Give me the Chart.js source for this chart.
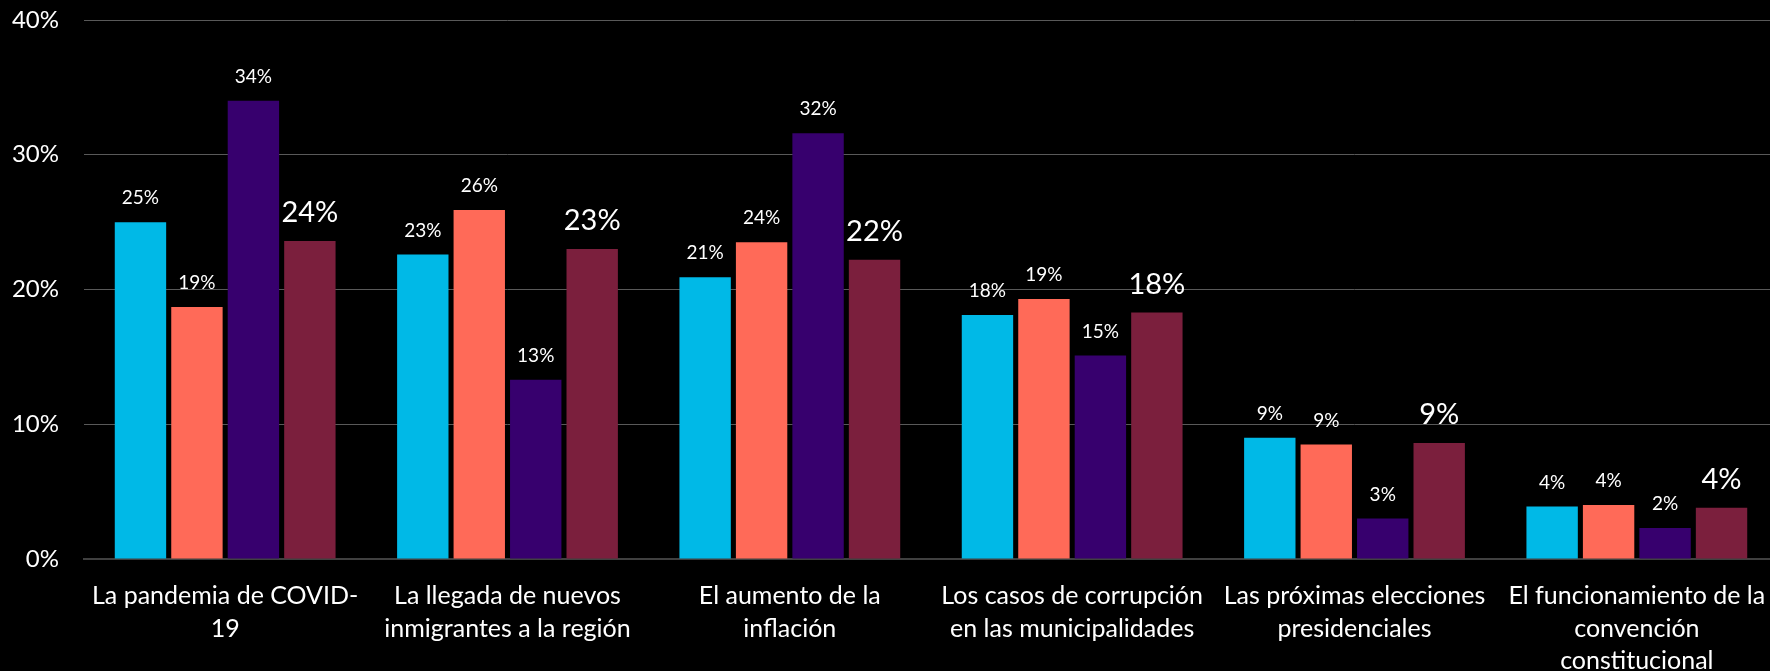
<!DOCTYPE html>
<html>
<head>
<meta charset="utf-8">
<script src="https://cdn.jsdelivr.net/npm/chart.js@4"></script>
<style>
  html, body { margin: 0; padding: 0; background: #000; overflow: hidden; width: 1770px; height: 671px; }
  canvas { display: block; }
</style>
</head>
<body>
<!-- plot runs a few px past the right edge, like the original -->
<canvas id="chart" width="1778" height="671"></canvas>
<script>
// Categories (x axis)
var categories = [
    ['La pandemia de COVID-', '19'],
    ['La llegada de nuevos', 'inmigrantes a la región'],
    ['El aumento de la', 'inflación'],
    ['Los casos de corrupción', 'en las municipalidades'],
    ['Las próximas elecciones', 'presidenciales'],
    ['El funcionamiento de la', 'convención', 'constitucional']
];

// Series values (%)
var serie1 = [25.0, 22.6, 20.9, 18.1, 9.0, 3.9];
var serie2 = [18.7, 25.9, 23.5, 19.3, 8.5, 4.0];
var serie3 = [34.0, 13.3, 31.6, 15.1, 3.0, 2.3];
var serie4 = [23.6, 23.0, 22.2, 18.3, 8.6, 3.8];

// Y axis ticks
var yTicks = [0, 10, 20, 30, 40];

var fontFamily = 'Lato, "Open Sans", sans-serif';

// Draw value labels above each bar
var barLabels = {
    id: 'barLabels',
    afterDatasetsDraw: function(chart) {
        var ctx = chart.ctx;
        ctx.save();
        ctx.fillStyle = '#ffffff';
        ctx.textAlign = 'center';
        ctx.textBaseline = 'middle';
        chart.data.datasets.forEach(function(ds, i) {
            var meta = chart.getDatasetMeta(i);
            var big = i === 3;
            ctx.font = (big ? '29px ' : '19px ') + fontFamily;
            meta.data.forEach(function(bar, j) {
                var txt = Math.round(ds.data[j]) + '%';
                ctx.fillText(txt, bar.x, bar.y - (big ? 28 : 24));
            });
        });
        ctx.restore();
    }
};

new Chart(document.getElementById('chart'), {
    type: 'bar',
    data: {
        labels: categories,
        datasets: [
            { label: 'Serie 1', data: serie1, backgroundColor: '#00b9e7' },
            { label: 'Serie 2', data: serie2, backgroundColor: '#ff6a58' },
            { label: 'Serie 3', data: serie3, backgroundColor: '#37006e' },
            { label: 'Serie 4', data: serie4, backgroundColor: '#7b1f3d' }
        ]
    },
    options: {
        responsive: false,
        animation: false,
        devicePixelRatio: 1,
        layout: { padding: { top: 20, right: 0, left: 0, bottom: 0 } },
        datasets: {
            bar: { barPercentage: 0.91, categoryPercentage: 0.8 }
        },
        plugins: {
            legend: { display: false },
            tooltip: { enabled: false }
        },
        scales: {
            x: {
                grid: { display: false, drawTicks: false },
                border: { display: true, color: '#404040', width: 2 },
                ticks: {
                    color: '#ffffff',
                    autoSkip: false,
                    maxRotation: 0,
                    padding: 21,
                    font: { family: fontFamily, size: 25, lineHeight: 1.3 }
                },
                afterFit: function(scale) {
                    scale.height = 112;
                    scale.paddingLeft = 0;
                    scale.paddingRight = 0;
                }
            },
            y: {
                min: 0,
                max: 40,
                afterBuildTicks: function(scale) {
                    scale.ticks = yTicks.map(function(v) { return { value: v }; });
                },
                grid: { color: '#595959', lineWidth: 1, drawTicks: false },
                border: { display: false },
                ticks: {
                    color: '#ffffff',
                    padding: 25,
                    font: { family: fontFamily, size: 24 },
                    callback: function(v) { return v + '%'; }
                },
                afterFit: function(scale) {
                    scale.width = 84;
                    scale.paddingTop = 0;
                    scale.paddingBottom = 0;
                }
            }
        }
    },
    plugins: [barLabels]
});
</script>
</body>
</html>
